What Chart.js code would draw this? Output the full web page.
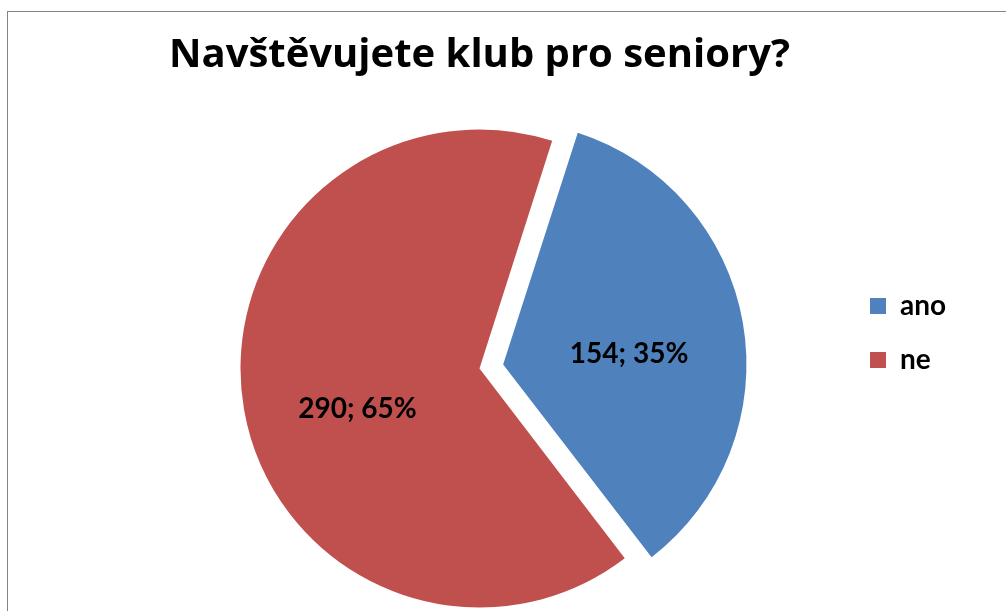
<!DOCTYPE html>
<html>
<head>
<meta charset="utf-8">
<script src="https://cdn.jsdelivr.net/npm/chart.js@4.4.1/dist/chart.umd.min.js"></script>
<style>
  html, body { margin: 0; padding: 0; background: #fff; overflow: hidden; }
  #wrap { position: relative; width: 1006px; height: 611px; overflow: hidden; }
  #frame { position: absolute; left: 7px; top: 11px; right: -10px; bottom: -10px;
           border-left: 1px solid #858585; border-top: 1px solid #858585; }
  canvas { position: absolute; left: 0; top: 0; }
</style>
</head>
<body>
<div id="wrap">
  <div id="frame"></div>
  <!-- canvas runs past the bottom of the window, like the cropped original -->
  <canvas id="c" width="1006" height="653"></canvas>
</div>
<script>
const TITLE = 'Navštěvujete klub pro seniory?';
const categories = ['ano', 'ne'];
const counts = [154, 290];
const percents = [35, 65];
const colors = ['#4F81BD', '#C0504D'];

const FONT = "Lato, 'Open Sans', sans-serif";
const TITLE_FONT = "'Open Sans', Lato, sans-serif";
const LABEL_SIZE = 28;
const LEG_PAD = 26;
const LEG_BOX = 16;

// legend width as Chart.js computes it, so the pie stays where it should
function legendWidth() {
  const m = document.createElement('canvas').getContext('2d');
  m.font = `bold ${LABEL_SIZE}px ${FONT}`;
  const tw = Math.max(...categories.map((c) => m.measureText(c).width));
  return LEG_PAD + LEG_BOX + LABEL_SIZE / 2 + tw + 10;
}

// "count; percent%" written inside each slice
const sliceLabels = {
  id: 'sliceLabels',
  afterDatasetsDraw(chart, args, opts) {
    const { ctx } = chart;
    const meta = chart.getDatasetMeta(0);
    ctx.save();
    ctx.font = `bold ${opts.size}px ${FONT}`;
    ctx.fillStyle = opts.color;
    ctx.textAlign = 'center';
    ctx.textBaseline = 'middle';
    meta.data.forEach((arc, i) => {
      const p = arc.getProps(['x', 'y', 'startAngle', 'endAngle', 'outerRadius'], true);
      const mid = (p.startAngle + p.endAngle) / 2;
      const d = (arc.options.offset || 0) * opts.offsetScale + p.outerRadius * opts.at;
      const [nx, ny] = opts.nudge[i] || [0, 0];
      ctx.fillText(`${counts[i]}; ${percents[i]}%`,
        p.x + Math.cos(mid) * d + nx, p.y + Math.sin(mid) * d + ny);
    });
    ctx.restore();
  },
};

new Chart(document.getElementById('c'), {
  type: 'pie',
  data: {
    labels: categories,
    datasets: [{
      data: counts,
      backgroundColor: colors,
      borderWidth: 0,
      offset: [96, 0],
      hoverOffset: 0,
      radius: 239,
      clip: false,
    }],
  },
  options: {
    responsive: false,
    animation: false,
    events: [],
    rotation: 17.7,
    layout: { padding: { left: 115, right: 1006 - 844 - legendWidth(), top: 13, bottom: 0 } },
    plugins: {
      title: {
        display: true,
        fullSize: false,
        text: TITLE,
        color: '#000',
        font: { family: TITLE_FONT, size: 40, weight: 'bold', lineHeight: 1.2 },
        padding: { top: 19, bottom: 4 },
      },
      legend: {
        position: 'right',
        labels: {
          color: '#000',
          boxWidth: LEG_BOX,
          boxHeight: LEG_BOX,
          padding: LEG_PAD,
          font: { family: FONT, size: LABEL_SIZE, weight: 'bold' },
        },
      },
      tooltip: { enabled: false },
      sliceLabels: { size: LABEL_SIZE, color: '#000', at: 0.535, offsetScale: 0.25, nudge: [[0, 11], [4, 19]] },
    },
  },
  plugins: [sliceLabels],
});
</script>
</body>
</html>
